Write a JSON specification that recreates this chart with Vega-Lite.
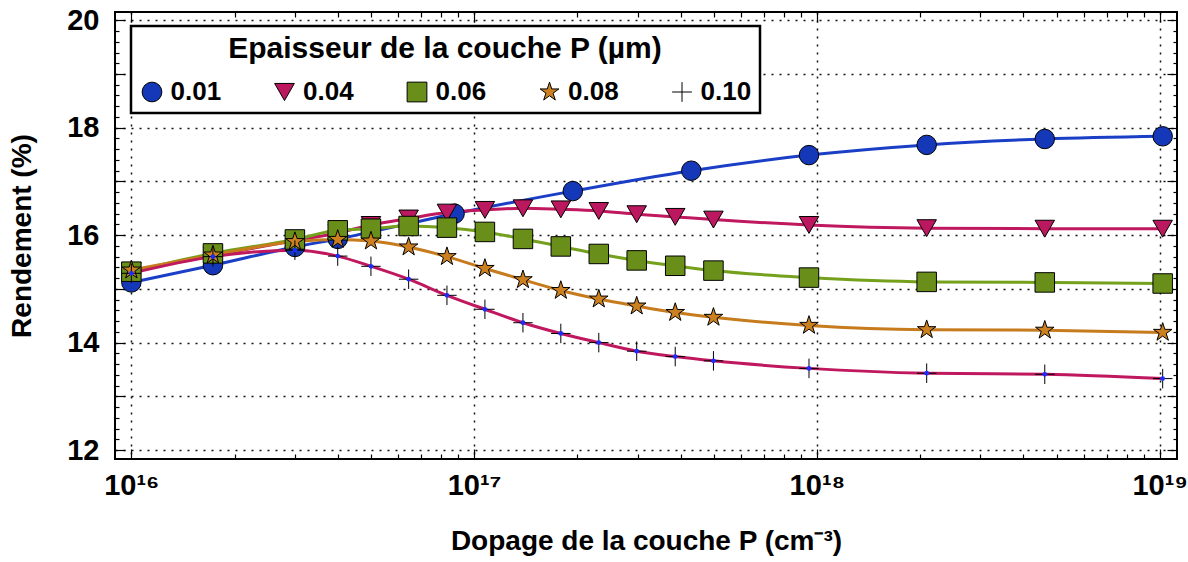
{
  "$schema": "https://vega.github.io/schema/vega-lite/v6.json",
  "width": 1062,
  "height": 447,
  "autosize": "none",
  "padding": {"left": 115, "top": 12, "right": 11, "bottom": 103},
  "background": "white",
  "config": {
    "view": {"stroke": "black", "strokeWidth": 2},
    "font": "Liberation Sans",
    "axis": {"domain": false, "labelFont": "Liberation Sans", "titleFont": "Liberation Sans", "labelFontWeight": "bold", "titleFontWeight": "bold", "labelColor": "black", "titleColor": "black", "tickColor": "black"},
    "legend": {
      "labelFont": "Liberation Sans", "titleFont": "Liberation Sans",
      "orient": "none", "legendX": 16, "legendY": 14,
      "direction": "horizontal", "columns": 5,
      "titleAnchor": "middle", "titleFontSize": 30, "titleFontWeight": "bold", "titleColor": "black", "titlePadding": 15, "titleLimit": 900,
      "labelFontSize": 26, "labelFontWeight": "bold", "labelColor": "black", "labelOffset": 5.5, "labelLimit": 200,
      "symbolSize": 390, "symbolStrokeColor": "black", "symbolStrokeWidth": 1, "symbolOpacity": 1,
      "columnPadding": 49.5, "gridAlign": "all",
      "strokeColor": "black", "strokeWidth": 2.5, "fillColor": "white", "padding": 8
    }
  },
  "data": {"values": [
    {"t": "0.01", "N": 1e16, "R": 15.12},
    {"t": "0.01", "N": 1.73e16, "R": 15.44},
    {"t": "0.01", "N": 3e16, "R": 15.78},
    {"t": "0.01", "N": 4e16, "R": 15.93},
    {"t": "0.01", "N": 8.77e16, "R": 16.40},
    {"t": "0.01", "N": 1.94e17, "R": 16.82},
    {"t": "0.01", "N": 4.3e17, "R": 17.20},
    {"t": "0.01", "N": 9.48e17, "R": 17.49},
    {"t": "0.01", "N": 2.09e18, "R": 17.68},
    {"t": "0.01", "N": 4.62e18, "R": 17.79},
    {"t": "0.01", "N": 1.02e19, "R": 17.84},

    {"t": "0.04", "N": 1e16, "R": 15.33},
    {"t": "0.04", "N": 1.73e16, "R": 15.62},
    {"t": "0.04", "N": 3e16, "R": 15.90},
    {"t": "0.04", "N": 4e16, "R": 16.04},
    {"t": "0.04", "N": 5e16, "R": 16.19},
    {"t": "0.04", "N": 6.44e16, "R": 16.31},
    {"t": "0.04", "N": 8.33e16, "R": 16.42},
    {"t": "0.04", "N": 1.075e17, "R": 16.47},
    {"t": "0.04", "N": 1.388e17, "R": 16.50},
    {"t": "0.04", "N": 1.79e17, "R": 16.48},
    {"t": "0.04", "N": 2.31e17, "R": 16.45},
    {"t": "0.04", "N": 2.98e17, "R": 16.39},
    {"t": "0.04", "N": 3.86e17, "R": 16.34},
    {"t": "0.04", "N": 4.99e17, "R": 16.29},
    {"t": "0.04", "N": 9.48e17, "R": 16.19},
    {"t": "0.04", "N": 2.09e18, "R": 16.13},
    {"t": "0.04", "N": 4.62e18, "R": 16.12},
    {"t": "0.04", "N": 1.02e19, "R": 16.12},

    {"t": "0.06", "N": 1e16, "R": 15.32},
    {"t": "0.06", "N": 1.73e16, "R": 15.66},
    {"t": "0.06", "N": 3e16, "R": 15.92},
    {"t": "0.06", "N": 4e16, "R": 16.09},
    {"t": "0.06", "N": 5e16, "R": 16.12},
    {"t": "0.06", "N": 6.44e16, "R": 16.17},
    {"t": "0.06", "N": 8.33e16, "R": 16.14},
    {"t": "0.06", "N": 1.075e17, "R": 16.06},
    {"t": "0.06", "N": 1.388e17, "R": 15.93},
    {"t": "0.06", "N": 1.79e17, "R": 15.79},
    {"t": "0.06", "N": 2.31e17, "R": 15.65},
    {"t": "0.06", "N": 2.98e17, "R": 15.53},
    {"t": "0.06", "N": 3.86e17, "R": 15.43},
    {"t": "0.06", "N": 4.99e17, "R": 15.34},
    {"t": "0.06", "N": 9.48e17, "R": 15.21},
    {"t": "0.06", "N": 2.09e18, "R": 15.13},
    {"t": "0.06", "N": 4.62e18, "R": 15.12},
    {"t": "0.06", "N": 1.02e19, "R": 15.10},

    {"t": "0.08", "N": 1e16, "R": 15.35},
    {"t": "0.08", "N": 1.73e16, "R": 15.63},
    {"t": "0.08", "N": 3e16, "R": 15.88},
    {"t": "0.08", "N": 4e16, "R": 15.92},
    {"t": "0.08", "N": 5e16, "R": 15.89},
    {"t": "0.08", "N": 6.44e16, "R": 15.78},
    {"t": "0.08", "N": 8.33e16, "R": 15.60},
    {"t": "0.08", "N": 1.075e17, "R": 15.38},
    {"t": "0.08", "N": 1.388e17, "R": 15.17},
    {"t": "0.08", "N": 1.79e17, "R": 14.97},
    {"t": "0.08", "N": 2.31e17, "R": 14.81},
    {"t": "0.08", "N": 2.98e17, "R": 14.68},
    {"t": "0.08", "N": 3.86e17, "R": 14.56},
    {"t": "0.08", "N": 4.99e17, "R": 14.47},
    {"t": "0.08", "N": 9.48e17, "R": 14.32},
    {"t": "0.08", "N": 2.09e18, "R": 14.24},
    {"t": "0.08", "N": 4.62e18, "R": 14.23},
    {"t": "0.08", "N": 1.02e19, "R": 14.19},

    {"t": "0.10", "N": 1e16, "R": 15.29},
    {"t": "0.10", "N": 1.73e16, "R": 15.60},
    {"t": "0.10", "N": 3e16, "R": 15.72},
    {"t": "0.10", "N": 4e16, "R": 15.61},
    {"t": "0.10", "N": 5e16, "R": 15.42},
    {"t": "0.10", "N": 6.44e16, "R": 15.18},
    {"t": "0.10", "N": 8.33e16, "R": 14.88},
    {"t": "0.10", "N": 1.075e17, "R": 14.62},
    {"t": "0.10", "N": 1.388e17, "R": 14.37},
    {"t": "0.10", "N": 1.79e17, "R": 14.17},
    {"t": "0.10", "N": 2.31e17, "R": 14.00},
    {"t": "0.10", "N": 2.98e17, "R": 13.84},
    {"t": "0.10", "N": 3.86e17, "R": 13.74},
    {"t": "0.10", "N": 4.99e17, "R": 13.66},
    {"t": "0.10", "N": 9.48e17, "R": 13.52},
    {"t": "0.10", "N": 2.09e18, "R": 13.43},
    {"t": "0.10", "N": 4.62e18, "R": 13.41},
    {"t": "0.10", "N": 1.02e19, "R": 13.33}
  ]},
  "resolve": {"axis": {"x": "independent", "y": "independent"}},
  "layer": [
    {
      "mark": {"type": "line", "strokeWidth": 3, "interpolate": "monotone"},
      "encoding": {
        "x": {"field": "N", "type": "quantitative",
          "scale": {"type": "log", "domain": [8.96e15, 1.123e19], "nice": false},
          "title": "Dopage de la couche P (cm⁻³)",
          "axis": {
            "orient": "bottom",
            "values": [1e16, 2e16, 3e16, 4e16, 5e16, 6e16, 7e16, 8e16, 9e16, 1e17, 2e17, 3e17, 4e17, 5e17, 6e17, 7e17, 8e17, 9e17, 1e18, 2e18, 3e18, 4e18, 5e18, 6e18, 7e18, 8e18, 9e18, 1e19],
            "labelExpr": "datum.value == 1e16 ? '10¹⁶' : datum.value == 1e17 ? '10¹⁷' : datum.value == 1e18 ? '10¹⁸' : datum.value == 1e19 ? '10¹⁹' : ''",
            "labelFontSize": 29, "labelPadding": 22, "labelBaseline": "top",
            "tickSize": {"condition": {"test": "indexof([1e16,1e17,1e18,1e19], datum.value) >= 0", "value": -10}, "value": -5},
            "tickWidth": 1.2,
            "grid": true,
            "gridOpacity": {"condition": {"test": "indexof([1e16,1e17,1e18,1e19], datum.value) >= 0", "value": 1}, "value": 0},
            "gridDash": [2, 6], "gridColor": "#111", "gridWidth": 1.5,
            "labelOverlap": false,
            "titleFontSize": 28, "titlePadding": 22
          }
        },
        "y": {"field": "R", "type": "quantitative",
          "scale": {"domain": [11.833, 20.154], "nice": false, "zero": false},
          "title": "Rendement (%)",
          "axis": {
            "orient": "left",
            "values": [12, 12.2, 12.4, 12.6, 12.8, 13, 13.2, 13.4, 13.6, 13.8, 14, 14.2, 14.4, 14.6, 14.8, 15, 15.2, 15.4, 15.6, 15.8, 16, 16.2, 16.4, 16.6, 16.8, 17, 17.2, 17.4, 17.6, 17.8, 18, 18.2, 18.4, 18.6, 18.8, 19, 19.2, 19.4, 19.6, 19.8, 20],
            "labelExpr": "datum.value % 2 == 0 ? datum.value : ''",
            "labelFontSize": 29, "labelPadding": 26,
            "tickSize": {"condition": {"test": "datum.value % 1 == 0", "value": -10}, "value": -4},
            "tickWidth": 1.2,
            "grid": true,
            "gridOpacity": {"condition": {"test": "datum.value % 1 == 0", "value": 1}, "value": 0},
            "gridDash": [2, 6], "gridColor": "#111", "gridWidth": 1.5,
            "labelOverlap": false,
            "titleFontSize": 28, "titlePadding": 30
          }
        },
        "stroke": {"field": "t", "type": "nominal", "legend": null,
          "scale": {"domain": ["0.10", "0.08", "0.06", "0.04", "0.01"], "range": ["#c0185f", "#c67b1c", "#74a01c", "#c0185f", "#1a3fc6"]}
        },
        "detail": {"field": "t"}
      }
    },
    {
      "mark": {"type": "point", "filled": true, "size": 380, "stroke": "black", "strokeWidth": 1, "opacity": 1},
      "encoding": {
        "x": {"field": "N", "type": "quantitative",
          "axis": {
            "orient": "top", "labels": false, "title": null, "grid": false,
            "values": [1e16, 2e16, 3e16, 4e16, 5e16, 6e16, 7e16, 8e16, 9e16, 1e17, 2e17, 3e17, 4e17, 5e17, 6e17, 7e17, 8e17, 9e17, 1e18, 2e18, 3e18, 4e18, 5e18, 6e18, 7e18, 8e18, 9e18, 1e19],
            "tickSize": {"condition": {"test": "indexof([1e16,1e17,1e18,1e19], datum.value) >= 0", "value": -10}, "value": -5},
            "tickWidth": 1.2
          }
        },
        "y": {"field": "R", "type": "quantitative",
          "axis": {
            "orient": "right", "labels": false, "title": null, "grid": false,
            "values": [12, 12.2, 12.4, 12.6, 12.8, 13, 13.2, 13.4, 13.6, 13.8, 14, 14.2, 14.4, 14.6, 14.8, 15, 15.2, 15.4, 15.6, 15.8, 16, 16.2, 16.4, 16.6, 16.8, 17, 17.2, 17.4, 17.6, 17.8, 18, 18.2, 18.4, 18.6, 18.8, 19, 19.2, 19.4, 19.6, 19.8, 20],
            "tickSize": {"condition": {"test": "datum.value % 1 == 0", "value": -10}, "value": -4},
            "tickWidth": 1.2
          }
        },
        "shape": {"field": "t", "type": "nominal",
          "scale": {"domain": ["0.01", "0.04", "0.06", "0.08", "0.10"], "range": ["circle", "triangle-down", "square", "M0,-1L0.225,-0.309L0.951,-0.309L0.363,0.118L0.588,0.809L0,0.382L-0.588,0.809L-0.363,0.118L-0.951,-0.309L-0.225,-0.309Z", "M-1,0L1,0M0,-1L0,1"]},
          "legend": {"title": "Epaisseur de la couche P (µm)",
            "encoding": {"symbols": {"stroke": {"value": "black"}, "strokeWidth": {"value": 1}, "size": {"value": 390}}}}
        },
        "fill": {"field": "t", "type": "nominal",
          "scale": {"domain": ["0.01", "0.04", "0.06", "0.08", "0.10"], "range": ["#1538b8", "#bb185f", "#6a8e1a", "#cc8020", "#8a1030"]},
          "legend": {"title": "Epaisseur de la couche P (µm)",
            "encoding": {"symbols": {"stroke": {"value": "black"}, "strokeWidth": {"value": 1}, "size": {"value": 390}}}}
        }
      }
    },
    {
      "transform": [{"filter": "datum.t == '0.10'"}],
      "mark": {"type": "point", "filled": true, "size": 22, "color": "#1a2cff", "opacity": 1},
      "encoding": {
        "x": {"field": "N", "type": "quantitative", "axis": null},
        "y": {"field": "R", "type": "quantitative", "axis": null}
      }
    }
  ]
}
